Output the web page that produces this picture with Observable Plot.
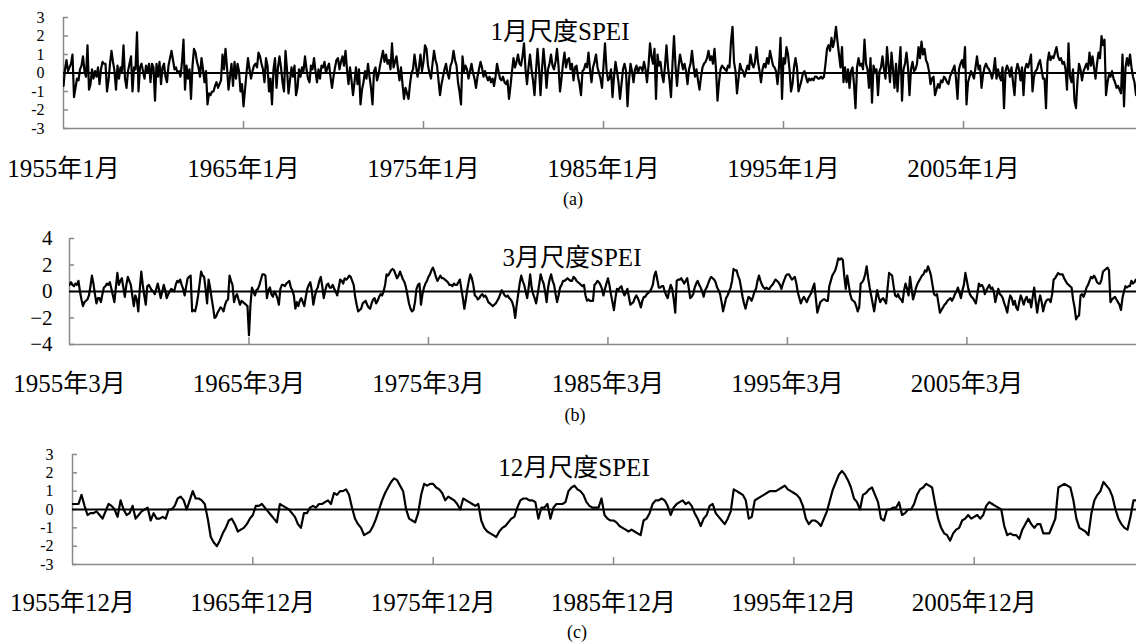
<!DOCTYPE html>
<html><head><meta charset="utf-8">
<script src="https://cdn.jsdelivr.net/npm/d3@7"></script>
<script src="https://cdn.jsdelivr.net/npm/@observablehq/plot@0.6"></script>
<style>
body{margin:0;background:#fff;}
#chart{position:relative;width:1136px;height:642px;overflow:hidden;background:#fff;font-family:"Liberation Serif","Noto Sans CJK SC",serif;}
#chart svg{position:absolute;left:0;}
.lbl{position:absolute;white-space:nowrap;line-height:1;color:#000;transform:translateX(-50%);}
</style></head><body><div id="chart"></div>
<script>
// 1-month SPEI, monthly from 1955-01
const spei1 = [
-0.7,0.2,0.7,0.1,0.3,0.5,1.0,-1.3,-0.8,-0.3,-0.4,0.2,
0.4,0.9,0.1,-0.2,1.5,-0.9,-0.6,0.2,-0.3,0.1,-0.2,0.3,
-0.6,0.2,0.6,0.5,0.5,-1.0,-0.4,0.5,1.2,0.6,0.1,-0.9,
0.4,-0.3,0.3,0.1,1.5,-0.3,-0.8,0.1,0.5,0.9,-1.0,0.3,
0.2,2.2,-1.0,0.3,0.5,0.1,-0.3,0.4,0.0,0.5,-0.5,0.5,
0.3,-1.5,0.5,-0.2,0.6,-0.6,0.3,0.5,-0.2,-0.5,0.4,0.8,
1.2,0.7,0.2,0.3,0.0,0.1,-0.2,0.6,1.8,-0.9,0.4,-0.3,
0.2,-1.4,0.4,1.3,1.1,0.6,0.3,-0.2,0.8,0.2,-0.5,0.1,
-1.7,-1.1,-1.2,-1.0,-1.0,-0.7,-0.5,-0.8,-0.6,-0.4,1.0,0.2,
1.3,0.3,-0.9,-0.2,0.5,-0.7,0.6,-0.3,0.5,0.1,-1.0,-0.6,
-1.8,-0.9,0.0,0.8,0.2,-0.3,0.1,0.4,0.5,0.3,1.1,0.9,
0.5,0.2,-0.5,0.8,0.4,-1.0,-0.3,-1.7,0.2,0.8,-0.8,0.3,
0.9,0.3,-0.5,-1.0,1.2,0.2,-1.1,-0.4,0.3,-0.2,0.4,-1.2,
-0.8,0.2,-0.2,0.3,0.1,0.9,0.2,-0.3,-0.5,0.4,0.2,0.8,
0.1,-0.5,0.2,-0.3,0.4,0.3,0.6,0.0,0.3,0.5,-0.2,-0.8,
-0.2,0.3,0.7,0.8,0.2,0.6,0.9,0.4,1.2,0.2,-0.6,0.3,
-0.4,-1.2,-0.5,0.3,-0.6,0.2,-1.7,-0.9,-0.5,0.1,-0.3,0.5,
-0.2,-0.8,-1.7,0.1,0.3,-0.4,-0.1,0.4,0.8,1.2,0.6,1.0,
0.5,0.7,0.2,1.6,0.3,0.6,0.9,0.2,-0.4,0.3,-0.6,-1.4,
-0.8,-1.1,-1.4,-0.6,0.0,0.2,1.0,0.4,-0.2,0.3,1.0,0.1,
0.6,1.5,1.3,0.4,0.0,-0.3,0.5,1.2,0.7,0.4,-0.4,-1.2,
-0.6,-0.2,0.2,0.5,0.0,-0.3,0.4,0.6,1.2,0.7,0.4,-0.5,
-1.0,-1.7,0.9,0.1,0.4,0.2,-0.3,0.1,0.5,0.0,-0.3,-0.8,
-0.2,0.2,0.6,0.3,-0.2,0.1,-0.2,-0.4,-0.2,-0.5,-0.3,-0.7,
-0.2,0.5,0.1,-0.3,-0.4,-0.2,-0.5,-0.6,-0.4,-1.4,-0.7,0.1,
0.8,0.3,0.6,1.0,0.5,0.4,0.9,1.6,0.2,-0.6,0.3,1.0,
0.2,-0.4,-1.2,0.1,1.3,0.3,-1.2,0.2,1.3,0.4,-0.8,0.2,
0.5,1.0,0.4,0.2,0.6,1.3,0.4,-1.0,-0.3,0.5,1.1,0.3,
0.7,0.8,0.2,0.5,-0.4,0.3,0.4,-0.2,-0.6,-1.2,0.1,0.2,
0.5,0.3,1.1,0.2,-0.5,0.3,0.6,1.0,0.3,0.0,-0.3,-0.8,
0.4,1.6,0.2,-0.4,-0.3,0.2,-1.3,-0.2,0.6,0.1,-0.5,-1.4,
-0.6,0.2,0.5,0.1,-1.8,-0.4,0.5,0.1,-0.5,0.2,0.4,0.0,
0.3,0.3,0.1,0.6,0.2,-0.5,0.4,1.6,0.9,0.5,1.3,-1.4,
1.0,0.4,0.6,-0.1,-0.5,0.4,1.5,0.3,-0.4,-1.3,0.5,2.0,
0.4,-0.7,0.3,1.0,0.6,0.2,0.5,0.1,-0.6,0.2,0.5,1.2,
0.4,-0.2,0.2,-0.4,-0.9,-0.2,0.3,0.5,0.6,0.8,1.2,0.7,
0.9,0.5,1.3,0.2,-1.5,-0.5,0.2,0.4,0.3,0.2,0.1,0.4,
0.3,1.7,2.5,0.6,0.1,-1.1,-0.3,0.5,0.2,0.1,-0.2,0.1,
0.4,0.2,1.0,0.5,0.3,0.6,1.4,0.6,0.1,-0.5,0.2,0.5,
0.3,0.8,0.5,1.2,0.8,0.4,0.3,0.1,-0.6,0.3,1.9,-1.4,
0.8,0.5,1.4,1.0,0.2,-1.0,-0.6,0.3,0.8,0.3,-1.0,-0.7,
-0.4,0.0,0.1,-0.2,-0.5,-0.3,-0.4,-0.3,-0.4,-0.2,-0.2,-0.3,
-0.3,-0.2,-0.3,-0.2,0.5,1.3,1.5,1.2,1.9,1.4,1.8,2.5,
1.7,1.0,0.3,1.4,-0.5,0.3,-0.5,0.2,-0.8,0.1,0.3,-0.6,
-1.9,0.3,0.8,0.4,0.5,0.2,1.8,0.5,0.2,-0.8,0.8,-1.6,
0.4,0.1,0.2,-1.2,0.1,0.3,0.9,0.2,-0.3,1.4,0.4,-0.5,
1.1,0.2,-0.8,0.5,-1.0,0.3,1.4,-1.5,0.2,0.5,1.1,0.3,
-1.2,0.2,0.6,0.1,0.2,0.5,1.4,0.8,1.7,1.0,1.3,0.7,
0.5,0.1,-0.6,-0.3,-0.2,-1.2,-0.9,-0.6,-0.8,-0.4,-0.5,-0.2,
-0.3,-0.5,-0.6,-0.2,0.0,0.2,0.4,-0.3,-1.4,0.2,0.5,0.7,
0.3,1.4,-1.7,-0.5,-0.2,0.1,-0.1,-0.3,0.3,0.9,0.2,0.4,
-0.8,-0.1,0.3,0.5,0.3,0.2,0.0,-0.3,0.1,0.8,-0.3,0.2,
-0.2,-0.4,0.3,-1.9,0.1,0.4,0.2,-0.2,0.3,-0.5,-1.2,0.1,
0.5,0.2,-0.4,0.3,-1.2,0.2,0.5,0.3,0.6,1.0,-1.0,-0.2,
0.1,0.2,0.5,0.7,0.2,-0.3,-0.3,-1.9,0.6,1.1,0.7,0.9,
0.8,1.1,1.4,0.9,0.7,0.8,0.5,0.6,0.2,-0.9,1.6,-0.2,
-0.5,0.2,-1.5,-1.9,-0.4,0.5,0.2,-0.4,0.1,0.3,0.5,0.2,
1.1,0.4,0.9,0.3,-0.3,0.5,1.1,0.8,2.0,1.5,1.8,-1.2,
-0.5,-0.1,-0.2,0.1,-0.3,-0.5,-0.8,-0.7,-0.9,-1.1,1.0,-1.8,
0.3,0.8,0.4,1.0,0.3,-0.2,-0.5,-1.2
];
// 3-month SPEI, monthly from 1955-03
const spei3 = [
0.5,0.7,0.5,0.4,0.6,0.5,0.8,0.0,-0.6,-1.1,-0.8,-0.7,
-0.6,-0.3,0.4,1.2,0.6,-0.2,-0.9,-0.5,-0.5,-0.8,-0.2,0.3,
0.4,0.6,0.5,0.7,0.2,-0.3,-0.8,0.3,1.4,0.5,0.8,1.0,
0.3,-0.4,0.5,1.1,0.8,0.5,-0.3,-1.1,-0.3,-0.6,-1.5,0.2,
1.5,0.5,-0.3,-1.0,0.4,0.5,0.3,0.1,0.0,-0.2,0.2,0.6,
0.1,-0.5,0.0,0.5,0.1,-0.5,-0.2,0.0,0.2,0.1,0.0,0.5,
0.8,0.7,0.9,0.5,0.2,-0.3,0.4,1.0,1.1,1.2,-1.5,-1.4,
-1.5,-1.0,-0.3,0.6,1.5,1.2,1.1,0.2,-0.9,0.9,0.3,-0.5,
-1.2,-2.0,-1.9,-1.6,-1.4,-1.2,-1.3,-1.5,-1.0,-0.7,-0.6,1.2,
0.8,0.5,-0.8,-0.4,-0.2,-0.6,-1.0,-0.7,-0.8,-0.9,-1.0,-1.1,
-3.3,-1.0,0.3,0.0,-0.3,0.1,0.2,0.5,0.9,1.3,1.3,1.2,
-0.5,0.1,0.3,-0.2,-0.4,0.0,-0.2,-0.5,-1.0,0.2,0.5,0.5,
0.4,0.6,0.7,0.8,0.3,0.1,-0.3,-1.3,-0.8,-1.1,-0.7,-0.5,
-0.8,-1.1,-0.4,0.2,0.5,0.7,0.1,-1.0,-0.4,0.1,0.3,0.8,
1.1,0.4,-0.5,0.1,0.5,0.6,0.3,0.3,0.5,0.2,0.0,-0.3,
0.3,0.9,0.8,0.6,1.0,0.9,1.0,1.2,1.1,0.8,0.5,-0.4,
-1.0,-1.5,-1.4,-1.3,-0.9,-0.8,-0.7,-1.0,-1.2,-1.3,-0.9,-0.6,
-0.5,-0.9,-0.7,-0.4,-0.2,-0.3,0.0,0.5,1.3,1.2,1.4,1.6,
1.7,1.6,1.3,1.0,1.2,1.5,1.2,0.9,0.7,0.3,-0.3,-0.9,
-1.3,-1.5,-1.4,-0.8,0.2,0.5,0.6,-1.0,-0.2,0.3,0.6,0.8,
1.1,1.3,1.6,1.8,1.5,1.1,0.8,1.0,1.2,1.0,1.0,0.9,
0.8,0.7,0.5,0.5,0.4,0.6,0.5,0.5,0.7,0.9,0.2,-0.5,
-1.3,-0.6,0.2,0.8,1.3,1.0,0.5,-0.3,-0.4,-0.6,-0.5,-0.3,
-0.2,-0.4,-0.3,-0.5,-0.8,-0.9,-1.0,-1.1,-1.0,-0.9,-0.7,-0.5,
-0.2,0.1,-0.1,-0.3,-0.4,-0.3,-0.5,-0.6,-0.8,-1.2,-2.0,-1.0,
-0.2,0.6,1.2,0.8,0.5,0.0,-0.5,0.3,1.3,0.3,-0.2,-0.5,
-0.9,-0.2,0.5,1.3,0.9,0.6,0.0,-0.8,0.3,0.9,1.3,0.8,
0.5,-0.2,-0.8,-0.3,0.3,0.5,0.8,0.8,0.9,1.0,0.9,0.8,
0.8,1.1,1.0,0.8,0.7,0.6,0.5,0.4,0.5,-0.3,-0.7,-0.6,
-0.7,-0.7,-0.7,0.5,0.6,0.8,0.7,0.5,0.2,-0.3,0.2,0.6,
1.0,0.5,-0.2,-0.8,-1.4,-0.5,0.2,0.1,0.3,0.4,0.0,-0.3,
-0.1,0.2,-0.4,-1.0,-0.9,-0.8,-0.5,-0.3,-0.5,-0.8,-1.2,-0.7,
-0.4,-0.4,-0.2,-0.1,0.0,0.2,0.5,1.2,1.5,0.9,0.3,0.3,
0.4,0.4,0.0,-0.3,-0.5,0.1,0.5,0.2,-0.6,-1.6,0.8,0.9,
0.9,1.0,0.8,0.6,0.8,1.0,0.3,-0.5,-0.4,-0.2,0.3,0.6,
0.8,0.5,0.3,0.0,-0.4,0.1,0.3,0.6,0.9,1.1,1.0,0.9,
0.7,0.3,0.1,-0.2,-0.8,-1.5,-1.0,-0.5,-0.3,0.0,0.3,0.8,
1.7,1.6,1.6,1.2,0.9,0.3,-0.4,-0.9,-1.3,-0.8,-0.4,-0.5,
-0.7,-0.4,0.0,0.2,0.8,1.2,0.8,0.5,0.3,0.2,0.3,0.2,
0.2,0.4,0.5,0.7,0.9,0.8,0.7,0.5,0.2,0.6,0.9,1.2,
1.3,1.3,1.1,0.9,1.0,1.1,0.6,-0.1,-0.5,-0.9,-0.6,-0.4,
-0.6,-0.8,-0.5,-0.3,-0.1,0.3,0.6,-0.5,-1.6,-1.2,-0.8,-0.7,
-0.6,-0.6,-0.7,-0.7,0.4,0.8,1.2,1.4,1.6,2.0,2.5,2.4,
2.5,2.4,1.2,0.2,1.2,0.5,-0.2,-0.6,-0.7,-0.8,-1.1,-1.5,
-1.2,0.6,0.7,0.9,1.3,1.9,1.0,0.3,-0.3,-0.9,-1.5,-0.7,
0.1,-0.4,-0.8,-0.6,-0.5,-0.7,-0.9,0.3,1.4,1.3,1.2,0.4,
-0.3,-0.4,-0.2,-0.5,-0.6,-0.8,0.1,0.6,0.2,-0.3,1.1,0.2,
-0.6,-0.2,0.3,0.6,0.8,1.0,1.2,1.3,1.6,1.5,1.9,1.6,
1.2,0.5,-0.2,-0.3,-0.2,-0.9,-1.6,-1.4,-1.2,-1.0,-0.9,-0.7,
-0.6,-0.5,-0.7,-0.5,-0.2,0.0,0.3,-0.1,-0.5,0.1,0.5,1.4,
0.8,0.2,-0.2,-0.4,-0.5,-0.7,-0.9,-0.2,0.6,0.4,0.5,0.3,
-0.2,0.1,0.3,0.5,0.2,0.3,0.0,-0.8,-0.3,0.2,-0.2,-0.3,
-0.5,-0.9,-1.2,-1.6,-0.8,-0.3,-0.5,-1.0,-0.7,-1.2,-1.4,-0.8,
-0.3,-0.6,-1.0,-0.6,-0.4,-0.8,-0.6,-1.2,-0.4,0.3,-0.7,-1.6,
-0.8,-0.3,-0.8,-1.5,-1.0,-0.7,-0.6,-0.6,-0.8,-0.2,0.9,1.0,
1.2,1.4,1.3,1.3,1.3,1.0,0.8,0.6,0.5,0.4,0.3,-0.6,
-1.2,-2.1,-1.9,-1.8,-0.3,-0.2,-0.4,-0.1,0.3,0.5,0.8,1.1,
1.0,1.2,1.0,0.7,0.6,0.6,0.9,1.5,1.6,1.7,1.8,1.6,
-0.8,-0.6,-0.5,-0.4,-0.6,-0.8,-1.0,-1.4,-0.5,0.0,0.4,0.3,
0.4,0.4,0.8,0.6,0.7,0.9
];
// 12-month SPEI, every second month from 1955-12
const spei12 = [
0.3,0.3,0.3,0.8,0.2,-0.3,-0.2,-0.2,-0.1,-0.3,-0.5,-0.1,
0.3,0.2,0.0,-0.4,0.5,0.0,-0.3,-0.2,0.2,-0.5,-0.3,-0.1,
0.0,0.1,-0.6,-0.2,-0.5,-0.5,-0.4,-0.5,0.0,0.0,0.2,0.6,
0.7,0.5,0.0,0.5,1.0,0.6,0.6,0.5,0.3,-0.5,-1.5,-1.8,
-2.0,-1.7,-1.3,-1.0,-0.6,-0.5,-0.8,-1.2,-1.1,-1.0,-0.8,-0.5,
-0.3,0.2,0.2,0.3,0.1,-0.1,-0.3,-0.5,-0.7,0.3,0.2,0.1,
0.0,-0.2,-0.4,-0.8,-1.0,-0.2,-0.2,0.1,0.2,0.1,0.3,0.3,
0.4,0.5,0.3,0.9,0.8,1.0,1.0,1.1,0.8,0.1,-0.5,-0.8,
-1.0,-1.4,-1.3,-1.2,-0.9,-0.5,0.0,0.5,0.9,1.2,1.5,1.7,
1.6,1.3,1.0,0.0,-0.5,-0.6,-0.7,-0.2,0.8,1.4,1.3,1.4,
1.4,1.2,1.1,0.9,0.5,0.7,0.6,0.5,0.3,0.0,0.6,0.5,
0.4,0.3,0.2,0.3,-0.6,-1.0,-1.2,-1.3,-1.4,-1.5,-1.2,-1.0,
-0.9,-0.7,-0.5,-0.4,0.1,0.5,0.6,0.6,0.5,0.5,0.4,-0.5,
0.1,0.1,0.3,-0.5,0.1,0.3,0.3,0.3,0.4,1.0,1.2,1.3,
1.1,1.0,0.8,0.4,0.2,0.1,0.1,0.1,0.6,-0.3,-0.5,-0.6,
-0.6,-0.7,-0.9,-1.0,-1.1,-1.2,-1.1,-1.2,-1.3,-1.4,-0.6,-0.5,
-0.2,0.3,0.5,0.5,0.6,0.5,0.2,-0.3,0.1,0.3,0.4,0.5,
0.3,0.4,0.2,-0.2,-0.5,-0.9,-0.5,-0.3,0.2,0.3,-0.2,-0.4,
-0.6,-0.8,-0.5,-0.1,1.1,1.0,0.9,0.8,0.5,-0.5,-0.4,0.5,
0.6,0.7,0.8,0.9,1.0,1.0,1.0,1.1,1.2,1.3,1.1,1.0,
0.9,0.8,0.6,0.2,-0.5,-0.8,-0.6,-0.6,-0.7,-0.9,-0.5,-0.1,
0.5,1.1,1.5,1.9,2.1,1.9,1.6,1.2,0.6,0.4,0.0,0.8,
0.9,1.1,1.2,0.8,0.4,-0.5,-0.6,0.0,0.0,0.1,0.1,0.4,
-0.3,-0.2,0.0,0.0,0.3,0.8,1.1,1.2,1.4,1.3,1.2,0.3,
-0.5,-1.0,-1.3,-1.4,-1.7,-1.3,-1.1,-1.0,-0.6,-0.5,-0.3,-0.5,
-0.4,-0.3,-0.5,-0.3,0.2,0.4,0.3,0.2,0.1,0.0,-0.9,-1.4,
-1.3,-1.4,-1.4,-1.6,-1.1,-0.8,-0.5,-0.8,-1.0,-0.8,-0.8,-1.3,
-1.3,-1.3,-0.9,-0.5,1.2,1.3,1.4,1.3,1.2,0.5,-0.5,-1.0,
-1.1,-1.2,-1.4,-0.2,0.5,0.8,1.0,1.5,1.3,1.1,0.7,0.0,
-0.5,-0.8,-1.0,-1.1,-0.4,0.5,0.5
];
const step1 = 1, step3 = 1, step12 = 2;           // months between stored values
const tickMonths = [0, 120, 240, 360, 480, 600];  // months from series start
const labels1 = ["1955年1月","1965年1月","1975年1月","1985年1月","1995年1月","2005年1月"];
const labels3 = ["1955年3月","1965年3月","1975年3月","1985年3月","1995年3月","2005年3月"];
const labels12 = ["1955年12月","1965年12月","1975年12月","1985年12月","1995年12月","2005年12月"];
const yTicks1 = [-3,-2,-1,0,1,2,3];
const yTicks3 = [-4,-2,0,2,4];
const yTicks12 = [-3,-2,-1,0,1,2,3];
const titles = ["1月尺度SPEI","3月尺度SPEI","12月尺度SPEI"];
const captions = ["(a)","(b)","(c)"];

const FONT = '"Liberation Serif","Noto Sans CJK SC",serif';
const AXIS = "#898989";
const chart = document.getElementById("chart");

function panel(o) {
  const data = o.values.map((v, i) => ({m: i * o.step, v}));
  const y0 = o.yDomain[0];
  const svg = Plot.plot({
    width: 1136, height: o.height,
    marginTop: o.mTop, marginBottom: o.mBottom, marginLeft: o.mLeft, marginRight: 0,
    style: {fontFamily: FONT, background: "transparent", color: "#000"},
    x: {domain: [0, o.xMax], label: null},
    y: {domain: o.yDomain, label: null},
    marks: [
      Plot.ruleX([0], {stroke: AXIS, strokeWidth: 1.5}),
      Plot.ruleY([y0], {stroke: AXIS, strokeWidth: 1.5}),
      Plot.ruleX(tickMonths.slice(1), {y1: y0, y2: y0, insetTop: -7, stroke: AXIS, strokeWidth: 1.5}),
      Plot.ruleY(o.yTicks, {x1: 0, x2: 0, insetRight: -5, stroke: AXIS, strokeWidth: 1.5}),
      Plot.ruleY([0], {stroke: "#000", strokeWidth: 2}),
      Plot.line(data, {x: "m", y: "v", stroke: "#000", strokeWidth: 2.2, strokeLinejoin: "round", clip: true}),
      Plot.axisX(tickMonths, {tickSize: 0, tickPadding: o.xPad, fontSize: 25, label: null,
        tickFormat: d => o.labels[tickMonths.indexOf(d)]}),
      Plot.axisY(o.yTicks, {tickSize: 0, tickPadding: o.yPad, fontSize: o.yFont, tickFormat: o.yFmt, label: null})
    ]
  });
  svg.style.top = o.top + "px";
  chart.appendChild(svg);
}

const hyphen = d => String(d);
const minus = d => d < 0 ? "\u2212" + (-d) : String(d);

panel({values: spei1, step: step1, yDomain: [-3, 3], yTicks: yTicks1, yFmt: hyphen, yFont: 16,
  labels: labels1, top: 0, height: 190, mTop: 17, mBottom: 62, mLeft: 63, xMax: 715.33, xPad: 31, yPad: 19});
panel({values: spei3, step: step3, yDomain: [-4, 4], yTicks: yTicks3, yFmt: minus, yFont: 21,
  labels: labels3, top: 220, height: 180, mTop: 18, mBottom: 56, mLeft: 69, xMax: 713.4, xPad: 30, yPad: 17});
panel({values: spei12, step: step12, yDomain: [-3, 3], yTicks: yTicks12, yFmt: hyphen, yFont: 16,
  labels: labels12, top: 435, height: 200, mTop: 19, mBottom: 71, mLeft: 72, xMax: 708, xPad: 29, yPad: 19});

function label(text, cx, top, size) {
  const d = document.createElement("div");
  d.className = "lbl";
  d.textContent = text;
  d.style.left = cx + "px";
  d.style.top = top + "px";
  d.style.fontSize = size + "px";
  chart.appendChild(d);
}
label(titles[0], 560, 19, 25);
label(titles[1], 572, 245, 25);
label(titles[2], 574, 455, 25);
label(captions[0], 573, 190, 18);
label(captions[1], 575, 406, 18);
label(captions[2], 577, 623, 18);
</script></body></html>
